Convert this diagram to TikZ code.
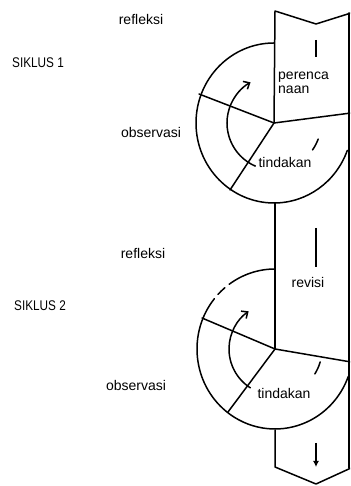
\documentclass[tikz,border=0pt]{standalone}
\usepackage{fontspec}
\setmainfont{Liberation Sans}[Ligatures=NoCommon]
\usetikzlibrary{arrows.meta}
\begin{document}
\begin{tikzpicture}[x=1pt,y=1pt,
  outline/.style={line width=1.5pt, line cap=round, line join=round},
  flowbar/.style={line width=2.8pt},
  turn/.style={line width=1.5pt, -{Straight Barb[length=5pt,width=9pt,line width=1.5pt]}},
  lab/.style={font=\fontsize{14}{16}\selectfont, inner sep=0pt, text=black},
  cyc/.style={font=\fontsize{14}{16}\selectfont, inner sep=0pt, xscale=0.84, text=black}]
\useasboundingbox (0,0) rectangle (350,486);
\clip (0,0) rectangle (350,486);

% centres of the two spirals
\coordinate (c1) at (274,363);
\coordinate (c2) at (275,137);

% the band that runs down the right side
\draw[outline] (c1) -- (275,475) -- (316,462) -- (351,473);
\draw[outline] (349,473) -- (349,18);
\draw[outline] (275,283) -- (c2);
\draw[outline] (275,56) -- (275,19) -- (316,2) -- (351,18);

% flow marks inside the band
\draw[flowbar] (316,446) -- (316,429);
\draw[flowbar] (316,258) -- (316,219);
\draw[line width=2.4pt, -{Latex[length=6pt,width=6pt]}] (316,43) -- (316,19);

% cycle 1
\begin{scope}[shift={(c1)}]
  \draw[outline] (90:78 and 80) arc[start angle=90, end angle=340, x radius=78, y radius=80];
  \draw[outline] (-75,29) -- (0,0) -- (77,10);
  \draw[outline] (0,0) -- (-44,-67);
  \draw[turn] (247:47) arc[start angle=247, end angle=120, radius=47];
  \draw[outline] (-35:47) arc[start angle=-35, end angle=-20, radius=47];
\end{scope}

% cycle 2
\begin{scope}[shift={(c2)}]
  \draw[outline] (90:78 and 80) arc[start angle=90, end angle=126, x radius=78, y radius=80];
  \draw[outline] (130:78 and 80) arc[start angle=130, end angle=137, x radius=78, y radius=80];
  \draw[outline] (141:78 and 80) arc[start angle=141, end angle=340, x radius=78, y radius=80];
  \draw[outline] (-73,31) -- (0,0) -- (76,-13);
  \draw[outline] (0,0) -- (-47,-63);
  \draw[turn] (238:46) arc[start angle=238, end angle=125, radius=46];
  \draw[outline] (-32:47) arc[start angle=-32, end angle=-16, radius=47];
\end{scope}

% labels
\node[lab] (ref1) at (141,466) {refleksi};
\node[cyc] (sik1) at (38,423) {SIKLUS 1};
\node[lab, anchor=west] (ren1) at (278,409) {perenca};
\node[lab, anchor=west] (ren2) at (278,396) {naan};
\node[lab] (obs1) at (151,353) {observasi};
\node[lab] (tin1) at (285,323) {tindakan};

\node[lab] (ref2) at (143,232) {refleksi};
\node[cyc] (sik2) at (40,180) {SIKLUS 2};
\node[lab] (rev) at (308,203) {revisi};
\node[lab] (obs2) at (136,101) {observasi};
\node[lab] (tin2) at (284,93) {tindakan};
\end{tikzpicture}
\end{document}
